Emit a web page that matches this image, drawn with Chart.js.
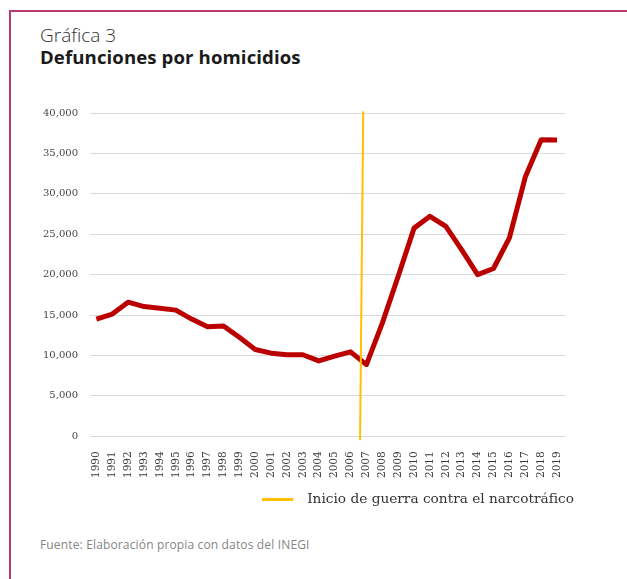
<!DOCTYPE html>
<html lang="es">
<head>
<meta charset="utf-8">
<script src="https://cdn.jsdelivr.net/npm/chart.js@4"></script>
<style>
  html, body { margin: 0; padding: 0; background: #fff; }
  body { width: 627px; height: 579px; position: relative; overflow: hidden; }
  .frame { position: absolute; left: 9px; top: 10px; right: -5px; bottom: -5px;
           border-left: 2px solid #b83a73; border-top: 2px solid #b83a73; }
  .kicker { position: absolute; left: 40px; top: 22px; font: 300 19px "Open Sans", sans-serif; color: #333; }
  .title { position: absolute; left: 40px; top: 44px; font: 700 18.6px "Open Sans", sans-serif; color: #1a1a1a; letter-spacing: 0.1px; }
  .source { position: absolute; left: 40px; top: 536px; font: 400 12px "Open Sans", sans-serif; color: #858585; letter-spacing: 0.15px; }
  canvas { position: absolute; left: 0; top: 0; }
</style>
</head>
<body>
<div class="frame"></div>
<div class="kicker">Gráfica 3</div>
<div class="title">Defunciones por homicidios</div>
<div class="source">Fuente: Elaboración propia con datos del INEGI</div>
<canvas id="homicidios" width="627" height="579"></canvas>

<script>
// años y defunciones por homicidio (INEGI)
const years = [1990, 1991, 1992, 1993, 1994, 1995, 1996, 1997, 1998, 1999,
               2000, 2001, 2002, 2003, 2004, 2005, 2006, 2007, 2008, 2009,
               2010, 2011, 2012, 2013, 2014, 2015, 2016, 2017, 2018, 2019];
const deaths = [14493, 15125, 16594, 16050, 15839, 15612, 14505, 13552, 13656, 12249,
                10737, 10285, 10088, 10087, 9329, 9921, 10452, 8867, 14006, 19803,
                25757, 27213, 25967, 23063, 20010, 20762, 24559, 32079, 36685, 36661];

// línea vertical: inicio de la guerra contra el narcotráfico
const markerLabel = 'Inicio de guerra contra el narcotráfico';
const markerYears = [2006.6, 2006.8];
const markerValues = [-500, 40200];

const yTicks = [0, 5000, 10000, 15000, 20000, 25000, 30000, 35000, 40000];

const red = '#bb0000';
const yellow = '#ffc000';

// muestra de la leyenda: trazo amarillo con un hueco transparente a la derecha
const swatch = document.createElement('canvas');
swatch.width = 38;
swatch.height = 3;
const sctx = swatch.getContext('2d');
sctx.fillStyle = yellow;
sctx.fillRect(0, 0, 31, 3);

const ctx = document.getElementById('homicidios').getContext('2d');
new Chart(ctx, {
    type: 'line',
    data: {
        datasets: [
            {
                label: 'Defunciones',
                data: years.map((y, i) => ({ x: y, y: deaths[i] })),
                borderColor: red,
                backgroundColor: red,
                borderWidth: 5,
                pointRadius: 0,
                tension: 0,
                borderJoinStyle: 'round',
                borderCapStyle: 'butt',
                order: 1
            },
            {
                label: markerLabel,
                data: markerYears.map((y, i) => ({ x: y, y: markerValues[i] })),
                borderColor: yellow,
                backgroundColor: yellow,
                borderWidth: 2,
                pointRadius: 0,
                clip: false,
                pointStyle: swatch,
                order: 0
            }
        ]
    },
    options: {
        responsive: false,
        animation: false,
        layout: { padding: { left: 0, right: 43, top: 113, bottom: 63 } },
        plugins: {
            tooltip: { enabled: false },
            legend: {
                position: 'bottom',
                align: 'end',
                labels: {
                    filter: item => item.text === markerLabel,
                    usePointStyle: true,
                    pointStyleWidth: 38,
                    boxHeight: 3,
                    color: '#333',
                    font: { family: '"DejaVu Serif", serif', size: 13.7 }
                }
            }
        },
        scales: {
            x: {
                type: 'linear',
                min: 1989.6,
                max: 2019.5,
                grid: { display: false },
                border: { display: false },
                ticks: {
                    stepSize: 1,
                    includeBounds: false,
                    autoSkip: false,
                    maxRotation: 90,
                    minRotation: 90,
                    padding: 7,
                    color: '#3a3a3a',
                    font: { family: '"DejaVu Serif", serif', size: 10.5 },
                    callback: v => String(v)
                },
                afterFit: s => { s.height = 46; }
            },
            y: {
                min: 0,
                max: 40000,
                grid: { color: '#d9d9d9', lineWidth: 1, drawTicks: false },
                border: { display: false },
                afterBuildTicks: s => { s.ticks = yTicks.map(v => ({ value: v })); },
                ticks: {
                    padding: 12,
                    color: '#444',
                    font: { family: '"DejaVu Serif", serif', size: 10 },
                    callback: v => v.toLocaleString('en-US')
                },
                afterFit: s => { s.width = 90; }
            },
            yRight: {
                position: 'right',
                grid: { display: false, drawTicks: false },
                border: { display: false },
                ticks: { display: false },
                afterFit: s => { s.width = 19; }
            }
        }
    }
});
</script>
</body>
</html>
